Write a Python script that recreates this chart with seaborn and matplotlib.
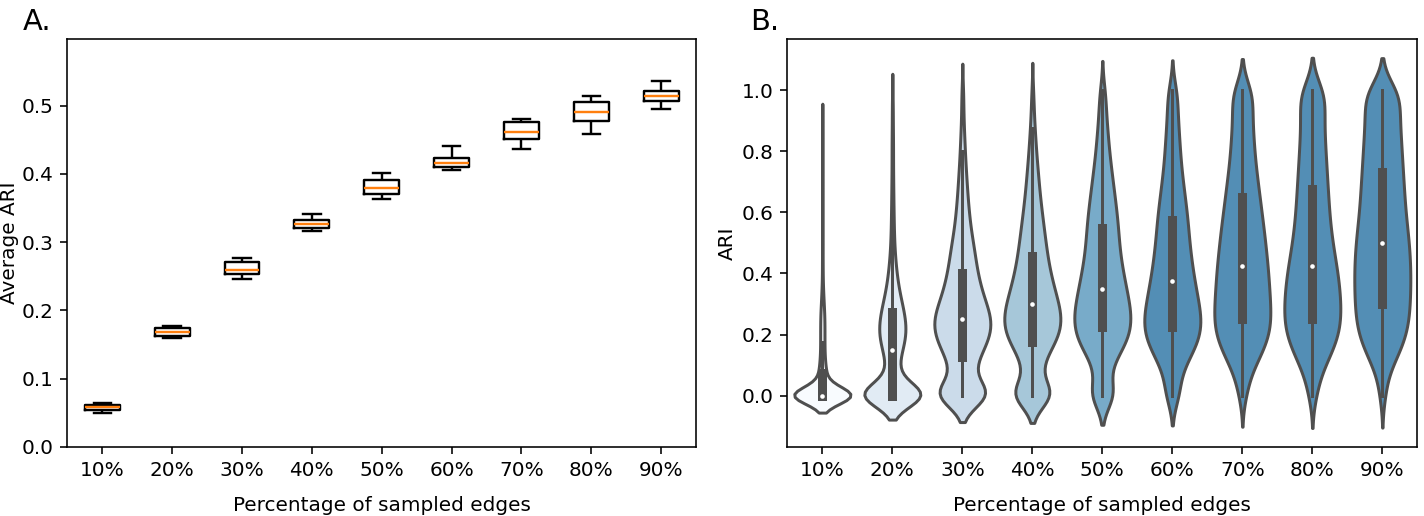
import numpy as np
import pandas as pd
import matplotlib
matplotlib.use("Agg")
import matplotlib.pyplot as plt
import seaborn as sns

# ---------------- data ----------------
labels = ["10%", "20%", "30%", "40%", "50%", "60%", "70%", "80%", "90%"]

# Panel A: five-number summaries of the average ARI per sampling level
avg_ari_min = [0.0500, 0.1590, 0.2456, 0.3160, 0.3638, 0.4054, 0.4373, 0.4594, 0.4951]
avg_ari_q1 = [0.0540, 0.1630, 0.2540, 0.3210, 0.3700, 0.4100, 0.4510, 0.4775, 0.5074]
avg_ari_median = [0.0580, 0.1676, 0.2594, 0.3265, 0.3794, 0.4167, 0.4613, 0.4912, 0.5143]
avg_ari_q3 = [0.0618, 0.1735, 0.2716, 0.3330, 0.3910, 0.4235, 0.4765, 0.5050, 0.5216]
avg_ari_max = [0.0647, 0.1770, 0.2775, 0.3407, 0.4010, 0.4407, 0.4800, 0.5138, 0.5359]

# Panel B: number of runs per ARI value (ARI rounded to 0.025)
ari_grid = [0.0, 0.025, 0.05, 0.075, 0.1, 0.125, 0.15, 0.175, 0.2, 0.225,
            0.25, 0.275, 0.3, 0.325, 0.35, 0.375, 0.4, 0.425, 0.45, 0.475,
            0.5, 0.525, 0.55, 0.575, 0.6, 0.625, 0.65, 0.675, 0.7, 0.725,
            0.75, 0.775, 0.8, 0.825, 0.85, 0.875, 0.9, 0.925, 0.95, 0.975, 1.0]
runs_10 = [620, 40, 38, 35, 25, 20, 18, 18, 18, 18, 18, 16, 12, 9, 6, 4, 3, 3, 3, 2,
           2, 2, 2, 2, 2, 2, 2, 2, 1, 1, 1, 1, 1, 1, 1, 1, 1, 0, 0, 0, 0]
runs_20 = [400, 35, 30, 25, 24, 30, 42, 52, 58, 58, 54, 48, 40, 33, 26, 21, 18, 14, 12, 9,
           8, 7, 6, 6, 5, 5, 4, 4, 4, 3, 3, 3, 3, 3, 3, 2, 2, 2, 2, 2, 0]
runs_30 = [160, 24, 22, 22, 26, 36, 44, 52, 60, 64, 62, 57, 50, 44, 39, 35, 32, 29, 27, 25,
           23, 19, 17, 15, 14, 12, 11, 10, 9, 8, 7, 6, 5, 5, 4, 3, 3, 2, 2, 2, 3]
runs_40 = [125, 18, 16, 16, 20, 28, 38, 50, 58, 63, 63, 60, 56, 51, 46, 42, 38, 35, 32, 30,
           28, 26, 24, 22, 20, 18, 16, 15, 13, 12, 11, 9, 8, 7, 6, 5, 4, 3, 3, 2, 3]
runs_50 = [75, 12, 10, 12, 20, 30, 42, 52, 60, 61, 62, 60, 57, 54, 50, 47, 44, 41, 38, 36,
           35, 34, 33, 32, 30, 28, 26, 24, 22, 20, 18, 16, 14, 13, 12, 10, 9, 8, 7, 6, 10]
runs_60 = [35, 10, 12, 18, 26, 36, 46, 54, 60, 62, 61, 58, 55, 52, 49, 46, 43, 41, 39, 37,
           35, 34, 33, 32, 30, 28, 26, 24, 22, 20, 18, 17, 16, 15, 14, 13, 12, 11, 10, 9, 18]
runs_70 = [15, 8, 12, 18, 26, 36, 45, 52, 57, 60, 60, 59, 58, 57, 56, 55, 54, 53, 51, 49,
           48, 46, 44, 42, 40, 38, 36, 34, 32, 30, 28, 26, 25, 24, 23, 22, 21, 20, 20, 20, 40]
runs_80 = [18, 8, 12, 20, 28, 36, 46, 54, 59, 62, 63, 63, 62, 61, 60, 58, 56, 53, 50, 47,
           44, 42, 40, 38, 37, 36, 35, 34, 33, 32, 31, 30, 29, 28, 27, 26, 26, 26, 26, 26, 52]
runs_90 = [14, 5, 8, 12, 22, 32, 40, 48, 53, 56, 58, 59, 60, 60, 61, 61, 61, 61, 60, 59,
           58, 56, 54, 52, 50, 49, 48, 47, 46, 45, 44, 43, 42, 41, 40, 39, 38, 37, 36, 35, 70]
runs_by_level = [runs_10, runs_20, runs_30, runs_40, runs_50, runs_60, runs_70, runs_80, runs_90]

# styles
violin_colors = ["#f7fbff", "#deebf7", "#c6dbef", "#9ecae1", "#6baed6",
                 "#4292c6", "#4292c6", "#4292c6", "#4292c6"]

# ---------------- tables ----------------
summary_cols = [avg_ari_min, avg_ari_q1, avg_ari_median, avg_ari_q3, avg_ari_max]
dfA = pd.DataFrame({
    "edges": [lab for lab in labels for _ in summary_cols],
    "avg": [col[i] for i in range(len(labels)) for col in summary_cols],
})

b_edges, b_ari = [], []
for lab, runs in zip(labels, runs_by_level):
    vals = np.repeat(np.array(ari_grid), np.array(runs))
    b_ari.extend(vals.tolist())
    b_edges.extend([lab] * len(vals))
dfB = pd.DataFrame({"edges": b_edges, "ARI": b_ari})

# ---------------- figure ----------------
DPI = 144
fig = plt.figure(figsize=(1424 / DPI, 516 / DPI), dpi=DPI)
axA = fig.add_axes([0.0473, 0.1343, 0.4415, 0.7901])
axB = fig.add_axes([0.5529, 0.1343, 0.4424, 0.7901])

sns.boxplot(data=dfA, x="edges", y="avg", order=labels, fill=False, color="black",
            width=0.5, whis=(0, 100), linewidth=1.2, showfliers=False,
            medianprops=dict(color="#ff7f0e", linewidth=1.2), ax=axA)
axA.set_ylim(0, 0.598)
axA.set_xlabel("Percentage of sampled edges", fontsize=10, labelpad=8)
axA.set_ylabel("Average ARI", fontsize=10)
axA.yaxis.set_label_coords(-0.077, 0.5)

sns.violinplot(data=dfB, x="edges", y="ARI", hue="edges", order=labels, hue_order=labels,
               palette=violin_colors, legend=False, density_norm="width",
               bw_method=0.2, cut=2, width=0.8, inner="box", linewidth=1.5,
               linecolor="#4f4f4f",
               inner_kws=dict(box_width=4.5, whis_width=1.5, marker="o",
                              markersize=2.3, markeredgewidth=0),
               ax=axB)
axB.set_ylim(-0.167, 1.167)
axB.set_xlabel("Percentage of sampled edges", fontsize=10, labelpad=8)
axB.set_ylabel("ARI", fontsize=10)
axB.yaxis.set_label_coords(-0.08, 0.5)

for ax in (axA, axB):
    ax.tick_params(labelsize=10)
    for s in ax.spines.values():
        s.set_visible(True)
        s.set_color("black")

fig.text(0.016, 0.942, "A.", fontsize=14.5, va="baseline", ha="left")
fig.text(0.5267, 0.942, "B.", fontsize=14.5, va="baseline", ha="left")

fig.savefig("out.png", dpi=DPI)
